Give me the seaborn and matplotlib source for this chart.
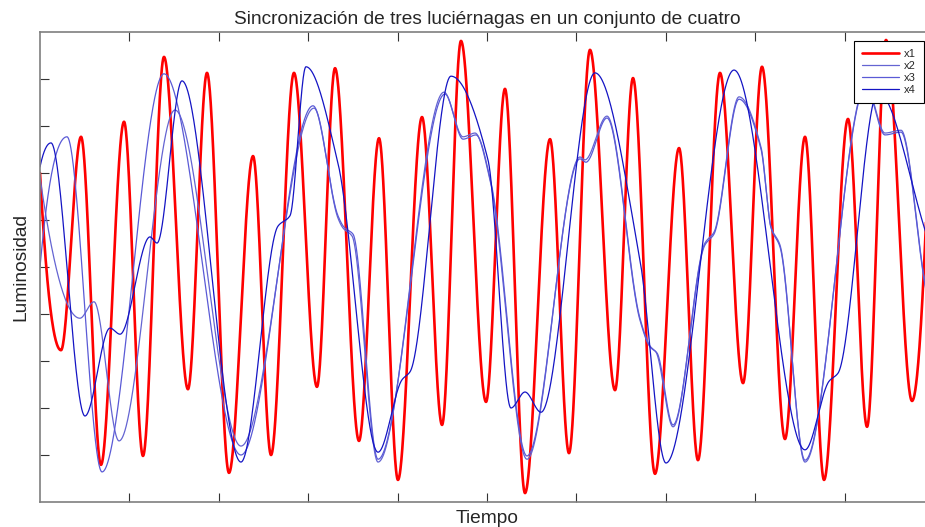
import numpy as np
import pandas as pd
import matplotlib
matplotlib.use("Agg")
import matplotlib.pyplot as plt
import seaborn as sns

sns.set_style("white")
plt.rcParams['font.family'] = ['Liberation Sans', 'DejaVu Sans']

TITLE = "Sincronización de tres luciérnagas en un conjunto de cuatro"
XLABEL = "Tiempo"
YLABEL = "Luminosidad"
LABELS = ["x1", "x2", "x3", "x4"]

# key points (extrema / shoulders), axis units 0..10
x1_t = [0.000, 0.235, 0.459, 0.682, 0.940, 1.152, 1.387, 1.655, 1.868, 2.114,
        2.383, 2.584, 2.841, 3.098, 3.300, 3.568, 3.792, 4.004, 4.273, 4.497,
        4.709, 4.989, 5.201, 5.425, 5.705, 5.917, 6.152, 6.432, 6.633, 6.879,
        7.148, 7.360, 7.606, 7.864, 8.076, 8.333, 8.557, 8.770, 9.038, 9.251,
        9.463, 9.754, 9.977]
x1_v = [7.00, 3.23, 7.77, 0.79, 8.09, 0.98, 9.47, 2.40, 9.13, 0.62,
        7.36, 1.00, 9.13, 2.45, 9.23, 1.30, 7.74, 0.47, 8.19, 1.64,
        9.81, 2.13, 8.79, 0.19, 7.72, 1.04, 9.62, 2.38, 9.02, 0.60,
        7.53, 0.89, 9.13, 2.53, 9.26, 1.34, 7.77, 0.47, 8.15, 1.60,
        9.83, 2.15, 9.40]

x2_t = [0.000, 0.447, 0.604, 0.884, 1.510, 2.248, 3.065, 3.333, 3.389, 3.490,
        3.781, 4.519, 4.732, 4.866, 5.034, 5.447, 6.040, 6.096, 6.342, 6.711,
        6.823, 6.890, 7.081, 7.438, 7.539, 7.819, 8.065, 8.177, 8.277, 8.557,
        9.239, 9.452, 9.631, 9.899, 10.000]
x2_v = [6.91, 3.91, 4.26, 1.30, 8.34, 1.19, 8.38, 6.04, 5.83, 5.66,
        0.85, 8.72, 7.77, 7.85, 6.85, 0.91, 7.34, 7.28, 8.21, 3.91,
        3.32, 3.19, 1.60, 5.51, 5.74, 8.62, 7.55, 5.85, 5.47, 0.85,
        8.87, 7.85, 7.91, 4.66, 3.66]

x3_t = [0.000, 0.302, 0.694, 1.387, 2.248, 3.054, 3.333, 3.400, 3.501, 3.781,
        4.530, 4.732, 4.877, 5.045, 5.447, 6.040, 6.107, 6.342, 6.711, 6.823,
        6.902, 7.081, 7.438, 7.539, 7.819, 8.065, 8.177, 8.277, 8.557, 9.239,
        9.452, 9.631, 9.899, 10.000]
x3_v = [5.00, 7.77, 0.64, 9.11, 1.00, 8.43, 6.09, 5.85, 5.70, 0.91,
        8.68, 7.72, 7.81, 6.79, 0.98, 7.30, 7.23, 8.17, 3.87, 3.30,
        3.17, 1.64, 5.47, 5.70, 8.57, 7.51, 5.83, 5.43, 0.89, 8.83,
        7.81, 7.87, 4.62, 3.62]

x4_t = [0.000, 0.123, 0.503, 0.783, 0.895, 1.230, 1.309, 1.588, 2.248, 2.662,
        2.796, 2.975, 3.333, 3.781, 4.049, 4.139, 4.597, 5.011, 5.268, 5.425,
        5.604, 6.208, 6.711, 7.002, 7.763, 8.557, 8.826, 8.926, 9.374, 9.899,
        10.000]
x4_v = [7.13, 7.64, 1.83, 3.70, 3.57, 5.64, 5.51, 8.96, 0.85, 5.87,
        6.09, 9.26, 7.21, 1.06, 2.60, 2.77, 9.06, 7.28, 2.00, 2.34,
        1.91, 9.13, 5.15, 0.83, 9.19, 1.11, 2.57, 2.74, 8.72, 5.79,
        5.15]


def pchip(xk, yk, xq):
    xk = np.asarray(xk, float)
    yk = np.asarray(yk, float)
    h = np.diff(xk)
    d = np.diff(yk) / h
    n = len(xk)
    m = np.zeros(n)
    for k in range(1, n - 1):
        if d[k - 1] * d[k] > 0:
            w1 = 2 * h[k] + h[k - 1]
            w2 = h[k] + 2 * h[k - 1]
            m[k] = (w1 + w2) / (w1 / d[k - 1] + w2 / d[k])

    def end(h0, h1, d0, d1):
        s = ((2 * h0 + h1) * d0 - h0 * d1) / (h0 + h1)
        if np.sign(s) != np.sign(d0):
            s = 0.0
        elif np.sign(d0) != np.sign(d1) and abs(s) > abs(3 * d0):
            s = 3 * d0
        return s

    m[0] = end(h[0], h[1], d[0], d[1])
    m[-1] = end(h[-1], h[-2], d[-1], d[-2])
    idx = np.clip(np.searchsorted(xk, xq) - 1, 0, n - 2)
    hh = h[idx]
    s = (xq - xk[idx]) / hh
    h00 = 2 * s**3 - 3 * s**2 + 1
    h10 = s**3 - 2 * s**2 + s
    h01 = -2 * s**3 + 3 * s**2
    h11 = s**3 - s**2
    return h00 * yk[idx] + h10 * hh * m[idx] + h01 * yk[idx + 1] + h11 * hh * m[idx + 1]


series = [
    ("x1", x1_t, x1_v, "#ff0000", 1.9),
    ("x2", x2_t, x2_v, "#6464d2", 0.9),
    ("x3", x3_t, x3_v, "#5a5ad6", 0.9),
    ("x4", x4_t, x4_v, "#1414c4", 0.9),
]

fig = plt.figure(figsize=(9.25, 5.27), dpi=100)
ax = fig.add_axes([40 / 925, 25 / 527, 894 / 925, 470 / 527])

handles = []
for name, tk, vk, col, lw in series:
    tq = np.linspace(tk[0], tk[-1], 3000)
    df = pd.DataFrame({"Tiempo": tq, "Luminosidad": pchip(tk, vk, tq)})
    sns.lineplot(data=df, x="Tiempo", y="Luminosidad", ax=ax, color=col,
                 linewidth=lw, estimator=None, sort=False, legend=False)
    handles.append(ax.get_lines()[-1])

ax.set_xlim(0, 10)
ax.set_ylim(0, 10)
ax.set_xticks(np.arange(1, 10))
ax.set_yticks(np.arange(1, 10))
ax.set_xticklabels([])
ax.set_yticklabels([])
ax.tick_params(direction="in", length=6.5, width=0.8, color="#333333",
               top=True, right=True, bottom=True, left=True)
for sp in ax.spines.values():
    sp.set_visible(True)
    sp.set_color("#7f7f7f")
    sp.set_linewidth(1.2)

ax.set_title(TITLE, fontsize=13.8, pad=6)
ax.set_xlabel(XLABEL, fontsize=13.8, labelpad=2)
ax.set_ylabel(YLABEL, fontsize=13.8, labelpad=4)

leg = ax.legend(handles, LABELS, loc="upper right",
                bbox_to_anchor=(0.9888, 0.981), borderaxespad=0,
                fontsize=8, frameon=True, fancybox=False, framealpha=1,
                edgecolor="black", handlelength=3.3, handletextpad=0.5,
                labelspacing=0.2, borderpad=0.7)
leg.get_frame().set_linewidth(0.8)

fig.savefig("out.png", dpi=100)
